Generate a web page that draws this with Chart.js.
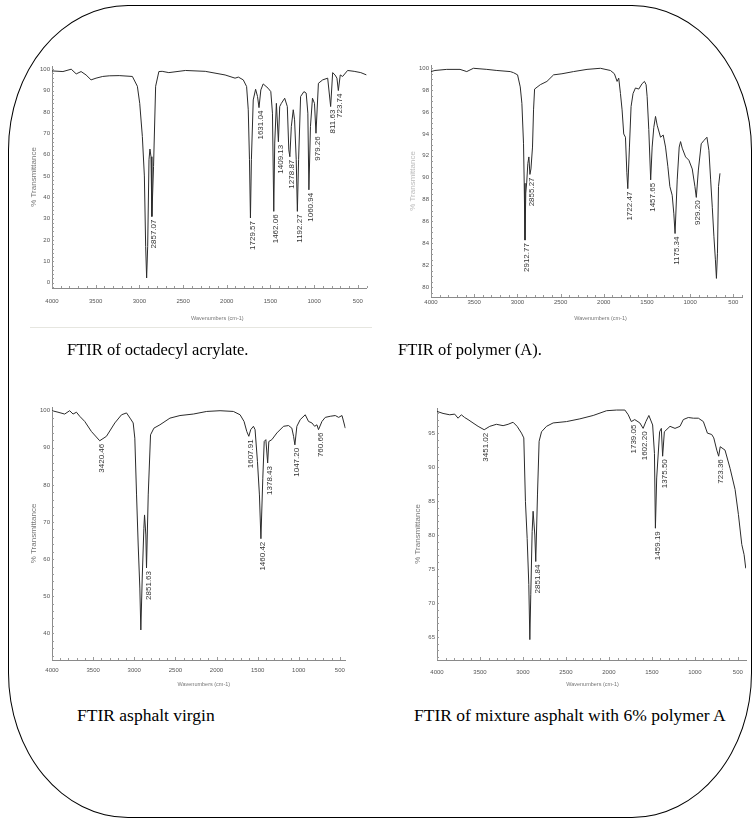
<!DOCTYPE html>
<html>
<head>
<meta charset="utf-8">
<script src="https://cdn.jsdelivr.net/npm/chart.js@4.4.0/dist/chart.umd.min.js"></script>
<style>
  html, body { margin: 0; padding: 0; background: #fff; }
  #page { position: relative; width: 755px; height: 822px; overflow: hidden; }
  .frame { position: absolute; left: 8px; top: 5px; width: 742px; height: 811px; border: 1.2px solid #000; border-radius: 120px / 145px; }
  .plot { position: absolute; }
  .caption { position: absolute; font-family: 'Liberation Serif', 'Times New Roman', serif; color: #000; white-space: nowrap; line-height: 1; }
  .rule { position: absolute; left: 30px; top: 327px; width: 342px; height: 1px; background: #e6e6e0; }
</style>
</head>
<body>
<div id="page">
  <div class="frame"></div>
  <div class="plot" id="acrylate"><canvas></canvas></div>
  <div class="plot" id="polymer"><canvas></canvas></div>
  <div class="plot" id="virgin"><canvas></canvas></div>
  <div class="plot" id="mixture"><canvas></canvas></div>
  <div class="rule"></div>
  <div class="caption" style="left:67px; top:342px; font-size:16.5px;">FTIR of octadecyl acrylate.</div>
  <div class="caption" style="left:398px; top:342px; font-size:16.5px;">FTIR of polymer (A).</div>
  <div class="caption" style="left:77px; top:707px; font-size:17.5px;">FTIR asphalt virgin</div>
  <div class="caption" style="left:414px; top:707px; font-size:17.5px;">FTIR of mixture asphalt with 6% polymer A</div>
</div>
<script>
const waveTicks = [4000, 3500, 3000, 2500, 2000, 1500, 1000, 500];

// octadecyl acrylate
const acrylateWave = [
  4000, 3875, 3780, 3723, 3667, 3610, 3553, 3496, 3420, 3345,
  3231, 3080, 3023, 2996, 2966, 2943, 2928, 2917, 2905, 2890,
  2879, 2867, 2857, 2838, 2814, 2777, 2739, 2663, 2473, 2246,
  2019, 1905, 1867, 1811, 1773, 1754, 1740, 1729, 1718, 1697,
  1670, 1648, 1631, 1610, 1583, 1527, 1496, 1477, 1462, 1451,
  1432, 1409, 1394, 1375, 1337, 1307, 1290, 1278, 1261, 1239,
  1224, 1205, 1192, 1178, 1155, 1117, 1091, 1072, 1060, 1042,
  1019, 996, 979, 951, 902, 845, 811, 788, 761, 739,
  723, 701, 674, 617, 542, 466, 400
];
const acrylateT = [
  99.2, 98.9, 100, 97.8, 98.9, 97.3, 95.0, 95.8, 96.6, 96.9,
  97.0, 96.6, 92.0, 84.0, 68.5, 50.0, 17.0, 2.2, 17.0, 57.6,
  62.6, 59.0, 31.0, 54.4, 92.0, 98.9, 99.0, 98.4, 99.4, 99.0,
  97.3, 95.8, 96.3, 95.0, 91.9, 81.0, 57.6, 30.3, 57.6, 85.6,
  90.6, 87.2, 82.0, 90.3, 93.1, 91.1, 89.5, 79.4, 33.4, 65.4,
  84.0, 66.0, 82.5, 84.0, 86.4, 82.5, 62.2, 59.0, 73.2, 81.0,
  76.3, 57.6, 33.4, 57.6, 87.2, 89.5, 88.8, 79.4, 43.5, 73.2,
  86.4, 84.0, 70.0, 93.4, 95.0, 95.8, 82.5, 98.4, 97.3, 95.8,
  90.0, 97.3, 96.6, 99.4, 99.0, 98.4, 97.3
];
const acrylatePeaks = [2857.07, 1729.57, 1631.04, 1462.06, 1409.13, 1278.87, 1192.27, 1060.94, 979.26, 811.63, 723.74];
const acrylateYTicks = [100, 90, 80, 70, 60, 50, 40, 30, 20, 10, 0];

// polymer (A)
const polymerWave = [
  4000, 3954, 3818, 3664, 3586, 3509, 3354, 3238, 3083, 3045,
  2998, 2967, 2948, 2929, 2921, 2912, 2903, 2892, 2879, 2867,
  2855, 2843, 2825, 2813, 2801, 2735, 2658, 2581, 2484, 2349,
  2194, 2039, 1923, 1877, 1846, 1827, 1807, 1788, 1769, 1749,
  1733, 1722, 1703, 1684, 1661, 1633, 1595, 1556, 1529, 1510,
  1498, 1479, 1457, 1440, 1421, 1401, 1382, 1343, 1312, 1285,
  1258, 1235, 1208, 1189, 1175, 1150, 1127, 1111, 1092, 1053,
  1015, 976, 945, 929, 905, 872, 841, 806, 783, 763,
  744, 725, 708, 696, 684, 672, 655
];
const polymerT = [
  99.7, 99.8, 99.9, 99.9, 99.7, 100.0, 99.9, 99.8, 99.7, 99.6,
  99.4, 98.3, 96.8, 93.1, 89.5, 84.3, 88.6, 89.6, 91.3, 91.9,
  90.3, 90.8, 92.8, 96.2, 98.1, 98.5, 98.8, 99.4, 99.5, 99.7,
  99.9, 100.0, 99.8, 99.5, 98.8, 99.1, 97.7, 96.2, 94.0, 93.7,
  90.5, 89.0, 92.8, 96.5, 97.7, 98.2, 98.1, 98.6, 98.8, 98.5,
  97.4, 94.4, 89.8, 92.8, 94.6, 95.6, 94.8, 93.7, 93.9, 92.8,
  91.0, 89.2, 88.4, 86.7, 84.9, 89.8, 92.8, 93.3, 92.7, 91.9,
  91.6, 90.8, 89.2, 88.2, 90.7, 93.1, 93.4, 93.7, 92.5, 89.8,
  87.3, 84.6, 82.5, 80.8, 83.1, 89.2, 90.4
];
const polymerPeaks = [2912.77, 2855.27, 1722.47, 1457.65, 1175.34, 929.20];
const polymerYTicks = [100, 98, 96, 94, 92, 90, 88, 86, 84, 82, 80];

// asphalt virgin
const virginWave = [
  4000, 3927, 3846, 3785, 3744, 3703, 3663, 3602, 3521, 3420,
  3338, 3236, 3155, 3094, 3045, 3013, 2993, 2972, 2952, 2932,
  2920, 2903, 2883, 2875, 2859, 2851, 2830, 2802, 2761, 2688,
  2566, 2444, 2282, 2119, 1957, 1795, 1713, 1665, 1632, 1607,
  1584, 1551, 1531, 1502, 1478, 1460, 1437, 1420, 1400, 1378,
  1364, 1327, 1266, 1185, 1124, 1084, 1063, 1047, 1023, 982,
  921, 881, 840, 807, 779, 760, 718, 678, 617, 556,
  515, 474, 434
];
const virginT = [
  100.0, 99.6, 99.1, 100.0, 99.1, 99.6, 98.5, 97.1, 94.4, 91.9,
  93.1, 96.7, 98.9, 99.4, 97.8, 96.7, 92.6, 77.3, 63.8, 52.2,
  40.9, 54.9, 68.3, 71.9, 66.5, 57.6, 77.3, 93.5, 95.3, 96.2,
  98.0, 98.7, 99.1, 99.8, 100.0, 99.8, 98.9, 97.1, 94.4, 93.1,
  94.9, 95.8, 94.9, 86.3, 77.3, 65.5, 81.8, 91.7, 92.2, 85.9,
  91.7, 92.2, 94.0, 95.8, 96.0, 95.3, 93.1, 90.8, 95.8, 97.6,
  98.9, 97.1, 96.7, 95.8, 96.2, 94.9, 97.1, 98.2, 98.5, 98.7,
  98.2, 98.7, 95.3
];
const virginPeaks = [3420.46, 2851.63, 1607.91, 1460.42, 1378.43, 1047.20, 760.66];
const virginYTicks = [100, 90, 80, 70, 60, 50, 40];

// asphalt + 6% polymer A
const mixtureWave = [
  4000, 3930, 3852, 3794, 3755, 3717, 3678, 3639, 3581, 3522,
  3451, 3386, 3309, 3231, 3173, 3115, 3068, 3017, 2990, 2971,
  2951, 2932, 2920, 2909, 2893, 2882, 2862, 2851, 2831, 2812,
  2784, 2726, 2649, 2493, 2338, 2183, 2027, 1911, 1814, 1775,
  1739, 1700, 1640, 1602, 1570, 1535, 1491, 1470, 1459, 1444,
  1410, 1390, 1375, 1355, 1289, 1231, 1173, 1134, 1076, 1017,
  959, 901, 854, 804, 780, 745, 723, 705, 649, 590,
  532, 493, 454, 427, 408
];
const mixtureT = [
  98.2, 97.9, 97.7, 97.8, 97.2, 97.7, 97.3, 97.0, 96.5, 96.0,
  95.5, 96.0, 96.3, 96.1, 96.3, 96.6, 96.0, 95.0, 94.3, 84.9,
  79.5, 72.7, 64.6, 71.2, 80.5, 83.5, 80.0, 76.1, 85.9, 93.8,
  95.2, 96.0, 96.5, 96.7, 97.1, 97.6, 98.3, 98.4, 98.4, 97.7,
  96.7, 97.0, 96.5, 95.7, 96.7, 97.6, 96.2, 92.0, 81.0, 88.4,
  95.2, 95.7, 91.6, 95.2, 96.0, 95.7, 96.0, 97.0, 97.3, 97.2,
  97.2, 96.7, 95.0, 94.8, 94.3, 92.5, 91.6, 93.0, 92.5, 89.8,
  86.7, 83.0, 78.6, 77.1, 75.1
];
const mixturePeaks = [3451.02, 2851.84, 1739.05, 1602.20, 1459.19, 1375.50, 723.36];
const mixtureYTicks = [95, 90, 85, 80, 75, 70, 65];

const tickFont = { family: "'Liberation Sans Narrow', 'Arial Narrow', 'Liberation Sans', sans-serif", size: 6 };

// vertical peak numbers under each labelled band
const peakLabels = {
  id: 'peakLabels',
  afterDatasetsDraw(chart, args, opts) {
    const { ctx, scales: { x, y } } = chart;
    const pts = chart.data.datasets[0].data;
    ctx.save();
    ctx.font = '8px "Liberation Sans", Arial, sans-serif';
    ctx.fillStyle = '#333';
    ctx.textAlign = 'right';
    ctx.textBaseline = 'middle';
    for (const p of opts.peaks) {
      let best = pts[0];
      for (const q of pts) if (Math.abs(q.x - p) < Math.abs(best.x - p)) best = q;
      ctx.save();
      ctx.translate(x.getPixelForValue(p) + 2, y.getPixelForValue(best.y) + 3);
      ctx.rotate(-Math.PI / 2);
      ctx.fillText(p.toFixed(2), 0, 0);
      ctx.restore();
    }
    ctx.restore();
  }
};

// minor tick marks and the two axis titles
const axisDecor = {
  id: 'axisDecor',
  afterDraw(chart, args, opts) {
    const { ctx, chartArea: a, scales: { x, y } } = chart;
    ctx.save();
    ctx.strokeStyle = '#9a9a9a';
    ctx.lineWidth = 1;
    ctx.beginPath();
    for (let v = Math.ceil(x.min / 100) * 100; v <= x.max; v += 100) {
      const px = Math.round(x.getPixelForValue(v)) + 0.5;
      ctx.moveTo(px, a.bottom);
      ctx.lineTo(px, a.bottom - (v % 500 === 0 ? 3 : 2));
    }
    for (let k = Math.ceil(y.min / opts.yMinor); k * opts.yMinor <= y.max; k++) {
      const py = Math.round(y.getPixelForValue(k * opts.yMinor)) + 0.5;
      ctx.moveTo(a.left, py);
      ctx.lineTo(a.left + 2, py);
    }
    ctx.stroke();

    ctx.fillStyle = opts.yTitleColor;
    ctx.font = '8px "Liberation Sans", Arial, sans-serif';
    ctx.textAlign = 'center';
    ctx.textBaseline = 'middle';
    ctx.save();
    ctx.translate(a.left + opts.yTitleDx, (a.top + a.bottom) / 2);
    ctx.rotate(-Math.PI / 2);
    ctx.fillText('% Transmittance', 0, 0);
    ctx.restore();
    ctx.fillStyle = '#777';
    ctx.font = '5.5px "Liberation Sans Narrow", "Arial Narrow", "Liberation Sans", sans-serif';
    ctx.fillText('Wavenumbers (cm-1)', (a.left + a.right) / 2 + opts.xTitleDx, a.bottom + opts.xTitleDy);
    ctx.restore();
  }
};

function makeSpectrum(id, area, wave, trans, peaks, yTicks, yMin, yMax, xMin, look) {
  const padL = 40, padR = 6, padT = 6, padB = 40;
  const el = document.getElementById(id);
  el.style.left = (area.L - padL) + 'px';
  el.style.top = (area.T - padT) + 'px';
  el.style.width = (area.R - area.L + padL + padR) + 'px';
  el.style.height = (area.B - area.T + padT + padB) + 'px';

  new Chart(el.querySelector('canvas'), {
    type: 'scatter',
    data: {
      datasets: [{
        data: wave.map((w, i) => ({ x: w, y: trans[i] })),
        showLine: true,
        borderColor: '#2b2b2b',
        borderWidth: 1,
        pointRadius: 0,
        tension: 0
      }]
    },
    options: {
      responsive: true,
      maintainAspectRatio: false,
      animation: false,
      events: [],
      layout: { padding: { left: 0, right: padR, top: padT, bottom: 0 } },
      plugins: {
        legend: { display: false },
        tooltip: { enabled: false },
        peakLabels: { peaks: peaks },
        axisDecor: look
      },
      scales: {
        x: {
          type: 'linear', reverse: true, min: xMin, max: 4000,
          afterFit: s => { s.height = padB; },
          afterBuildTicks: s => { s.ticks = waveTicks.map(v => ({ value: v })); },
          grid: { display: false, drawTicks: false },
          border: { display: true, color: '#8a8a8a', width: 1 },
          ticks: { autoSkip: false, maxRotation: 0, padding: look.xPad, color: '#555', font: tickFont, callback: v => String(v) }
        },
        y: {
          type: 'linear', min: yMin, max: yMax,
          afterFit: s => { s.width = padL; },
          afterBuildTicks: s => { s.ticks = yTicks.map(v => ({ value: v })); },
          grid: { display: false, drawTicks: false },
          border: { display: true, color: '#8a8a8a', width: 1 },
          ticks: { autoSkip: false, padding: 2, color: '#555', font: tickFont, callback: v => String(v) }
        }
      }
    },
    plugins: [peakLabels, axisDecor]
  });
}

makeSpectrum('acrylate', { L: 52, R: 367, T: 66, B: 288 }, acrylateWave, acrylateT, acrylatePeaks,
  acrylateYTicks, -2.5, 101.5, 400, { yMinor: 2, xPad: 10, yTitleDx: -18, yTitleColor: '#777', xTitleDx: 8, xTitleDy: 30 });
makeSpectrum('polymer', { L: 431, R: 742, T: 65, B: 297 }, polymerWave, polymerT, polymerPeaks,
  polymerYTicks, 79.1, 100.3, 400, { yMinor: 0.5, xPad: 2, yTitleDx: -18, yTitleColor: '#bbb', xTitleDx: 14, xTitleDy: 21 });
makeSpectrum('virgin', { L: 52, R: 346, T: 407, B: 660 }, virginWave, virginT, virginPeaks,
  virginYTicks, 32.8, 101, 430, { yMinor: 2, xPad: 7, yTitleDx: -18, yTitleColor: '#777', xTitleDx: 5, xTitleDy: 24 });
makeSpectrum('mixture', { L: 437, R: 746, T: 408, B: 660 }, mixtureWave, mixtureT, mixturePeaks,
  mixtureYTicks, 61.6, 98.7, 405, { yMinor: 1, xPad: 9, yTitleDx: -19, yTitleColor: '#777', xTitleDx: 1, xTitleDy: 24 });
</script>
</body>
</html>
